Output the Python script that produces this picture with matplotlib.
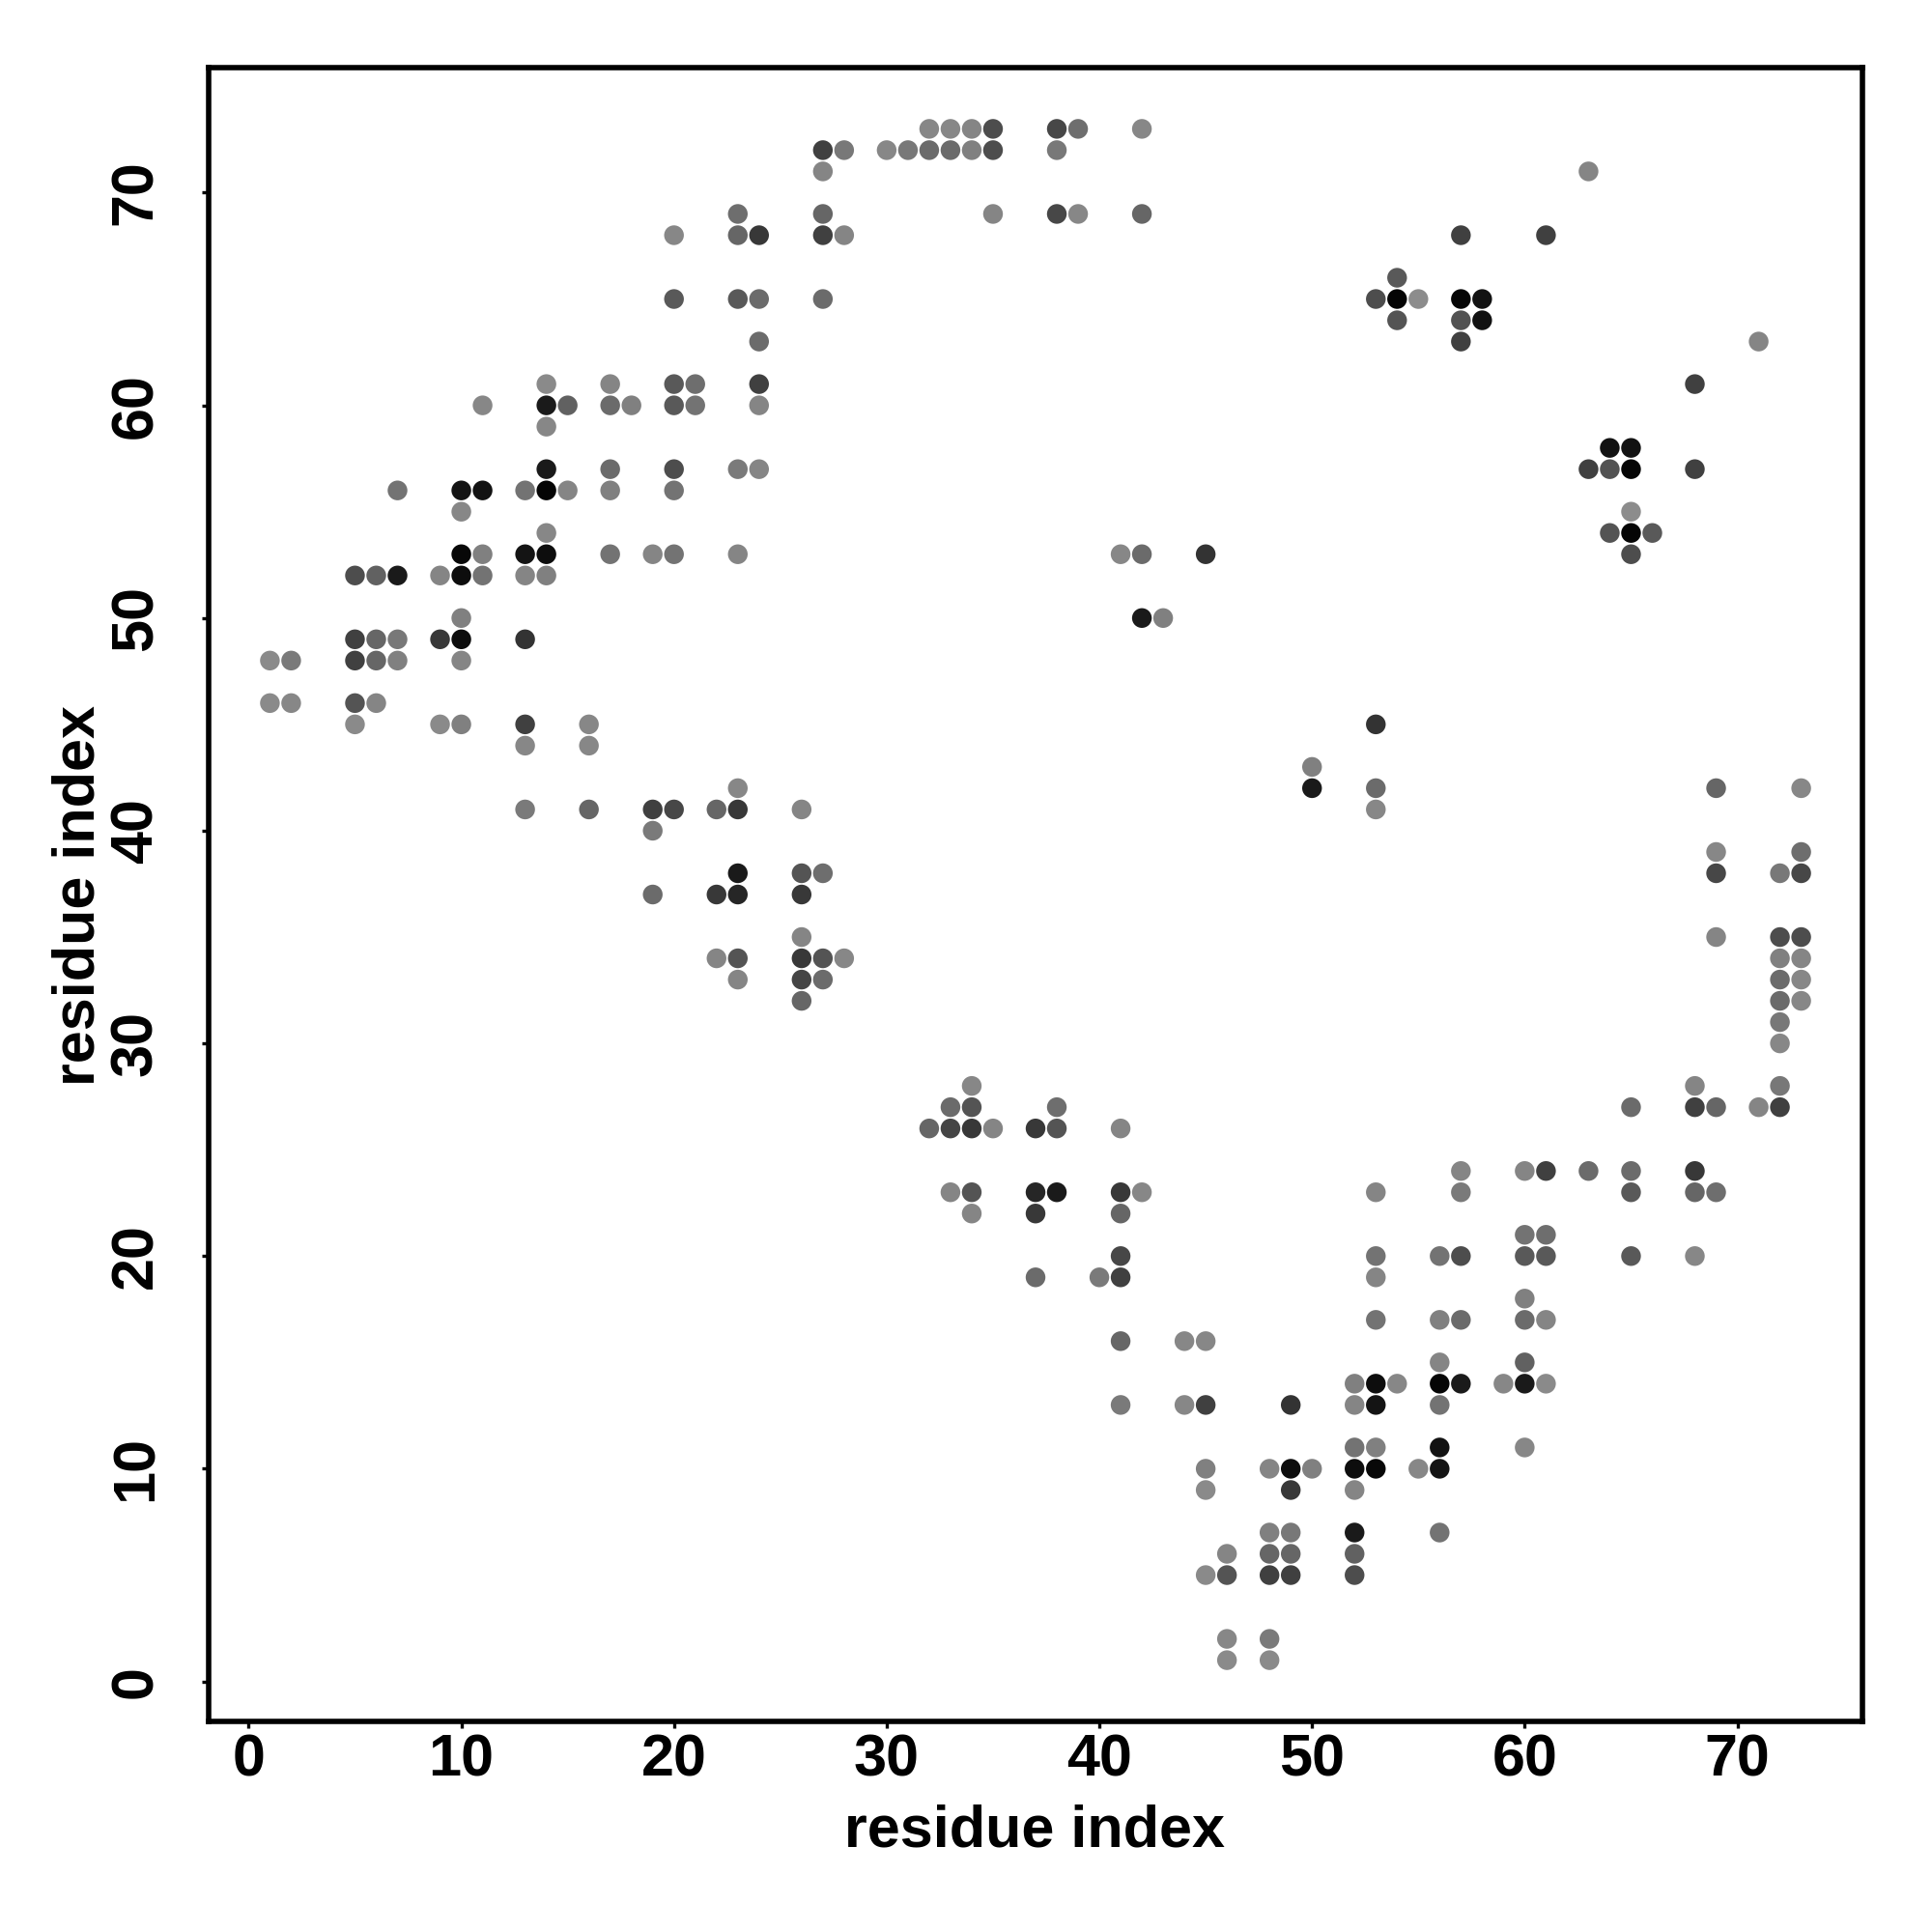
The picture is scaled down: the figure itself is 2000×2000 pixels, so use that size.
import matplotlib
matplotlib.use("Agg")
import matplotlib.pyplot as plt

# contact pairs (i < j); the map is symmetric so each pair is drawn twice
res_i = [1, 1, 2, 2,
         5, 5, 5, 5, 5,
         6, 6, 6, 6,
         7, 7, 7, 7,
         9, 9, 9,
         10, 10, 10, 10, 10, 10, 10, 10,
         11, 11, 11, 11,
         13, 13, 13, 13, 13, 13, 13,
         14, 14, 14, 14, 14, 14, 14, 14,
         15, 15,
         16, 16, 16,
         17, 17, 17, 17, 17,
         18,
         19, 19, 19, 19,
         20, 20, 20, 20, 20, 20, 20, 20,
         21, 21,
         22, 22, 22,
         23, 23, 23, 23, 23, 23, 23, 23, 23, 23, 23,
         24, 24, 24, 24, 24, 24,
         26, 26, 26, 26, 26, 26, 26,
         27, 27, 27, 27, 27, 27, 27, 27,
         28, 28, 28,
         30, 31, 32, 32, 33, 33, 34, 34,
         35, 35, 35,
         38, 38, 38,
         39, 39,
         41,
         42, 42, 42, 42,
         43, 45, 53,
         54, 54, 54,
         55,
         57, 57, 57, 57,
         58, 58,
         61, 63]
res_j = [46, 48, 46, 48,
         45, 46, 48, 49, 52,
         46, 48, 49, 52,
         48, 49, 52, 56,
         45, 49, 52,
         45, 48, 49, 50, 52, 53, 55, 56,
         52, 53, 56, 60,
         41, 44, 45, 49, 52, 53, 56,
         52, 53, 54, 56, 57, 59, 60, 61,
         56, 60,
         41, 44, 45,
         53, 56, 57, 60, 61,
         60,
         37, 40, 41, 53,
         41, 53, 56, 57, 60, 61, 65, 68,
         60, 61,
         34, 37, 41,
         33, 34, 37, 38, 41, 42, 53, 57, 65, 68, 69,
         57, 60, 61, 63, 65, 68,
         32, 33, 34, 35, 37, 38, 41,
         33, 34, 38, 65, 68, 69, 71, 72,
         34, 68, 72,
         72, 72, 72, 73, 72, 73, 72, 73,
         69, 72, 73,
         69, 72, 73,
         69, 73,
         53,
         50, 53, 69, 73,
         50, 53, 65,
         64, 65, 66,
         65,
         63, 64, 65, 68,
         64, 65,
         68, 71]
# grey level of each dot (0 = black)
shade = [0.54, 0.54, 0.53, 0.48,
         0.54, 0.33, 0.25, 0.25, 0.30,
         0.52, 0.40, 0.40, 0.38,
         0.50, 0.47, 0.10, 0.45,
         0.54, 0.22, 0.52,
         0.50, 0.52, 0.05, 0.50, 0.05, 0.03, 0.53, 0.08,
         0.45, 0.50, 0.07, 0.53,
         0.48, 0.53, 0.25, 0.20, 0.52, 0.08, 0.45,
         0.50, 0.05, 0.53, 0.02, 0.10, 0.53, 0.10, 0.54,
         0.52, 0.38,
         0.40, 0.53, 0.53,
         0.45, 0.50, 0.42, 0.42, 0.52,
         0.50,
         0.42, 0.48, 0.25, 0.52,
         0.28, 0.45, 0.45, 0.30, 0.35, 0.35, 0.35, 0.53,
         0.45, 0.43,
         0.52, 0.22, 0.40,
         0.52, 0.33, 0.15, 0.10, 0.22, 0.53, 0.52, 0.48, 0.35, 0.40, 0.43,
         0.52, 0.52, 0.25, 0.42, 0.42, 0.22,
         0.40, 0.27, 0.22, 0.52, 0.22, 0.33, 0.52,
         0.42, 0.33, 0.43, 0.42, 0.25, 0.40, 0.52, 0.25,
         0.53, 0.52, 0.47,
         0.53, 0.47, 0.42, 0.53, 0.42, 0.53, 0.50, 0.52,
         0.52, 0.30, 0.30,
         0.28, 0.47, 0.28,
         0.53, 0.43,
         0.53,
         0.10, 0.42, 0.40, 0.53,
         0.50, 0.20, 0.30,
         0.33, 0.02, 0.35,
         0.55,
         0.25, 0.32, 0.02, 0.25,
         0.07, 0.07,
         0.25, 0.52]

xs = res_i + res_j
ys = res_j + res_i
cols = [str(g) for g in shade + shade]

plt.rcParams['font.family'] = ['Liberation Sans', 'DejaVu Sans']
plt.rcParams['font.weight'] = 'bold'

fig = plt.figure(figsize=(10, 10), dpi=200)
ax = fig.add_axes([0.108, 0.109, 0.856, 0.856])
ax.scatter(xs, ys, s=54, c=cols, edgecolors='none')

ax.set_xlim(-1.88, 75.88)
ax.set_ylim(-1.88, 75.88)
ticks = [0, 10, 20, 30, 40, 50, 60, 70]
ax.set_xticks(ticks)
ax.set_yticks(ticks)
for sp in ax.spines.values():
    sp.set_linewidth(2.0)
ax.tick_params(axis='both', length=2.5, width=1.2, labelsize=22)
ax.tick_params(axis='x', pad=2)
ax.tick_params(axis='y', pad=14, labelrotation=90)
for lab in ax.get_yticklabels():
    lab.set_va('center')
    lab.set_fontweight('bold')
for lab in ax.get_xticklabels():
    lab.set_fontweight('bold')

fig.text(0.5357, 0.0445, 'residue index', ha='center', va='baseline',
         fontsize=22, fontweight='bold')
fig.text(0.049, 0.5365, 'residue index', ha='center', va='baseline',
         rotation=90, rotation_mode='anchor', fontsize=22, fontweight='bold')

fig.savefig('out.png', dpi=200)
